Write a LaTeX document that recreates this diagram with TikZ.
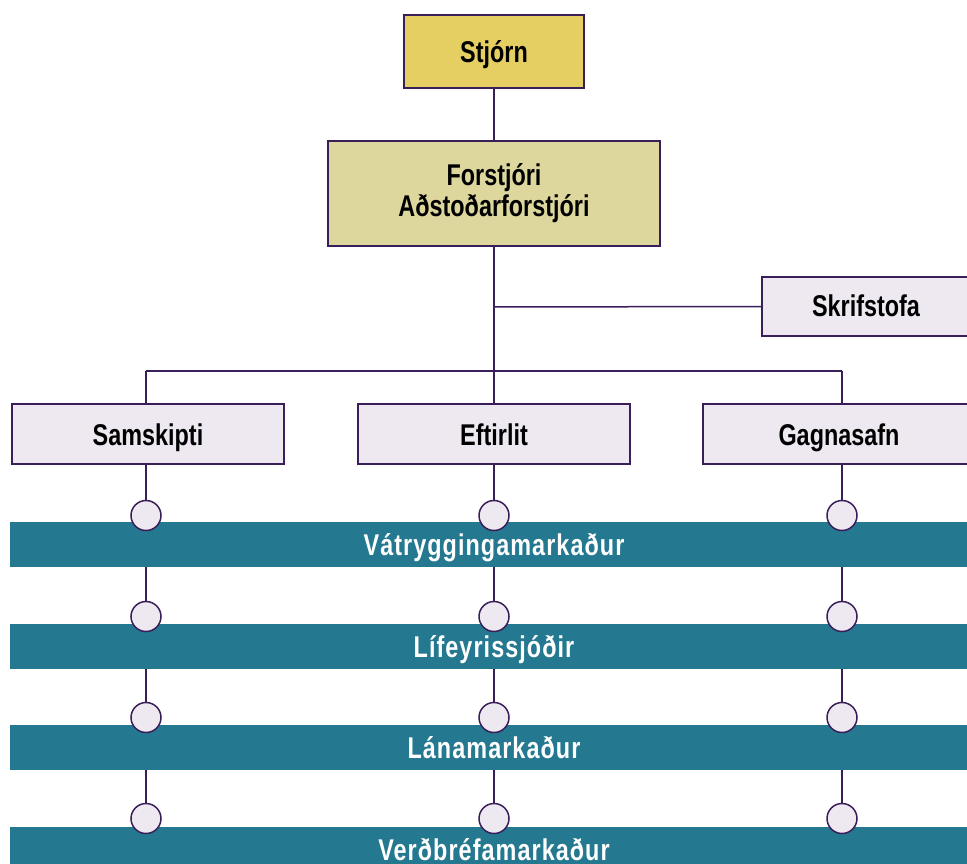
\documentclass[tikz,border=0pt]{standalone}
\usepackage{fontspec}
\setmainfont{Liberation Sans}[FakeStretch=0.78]
\usetikzlibrary{backgrounds}
\definecolor{ln}{HTML}{3A1E5A}
\definecolor{stj}{HTML}{E5CF63}
\definecolor{fst}{HTML}{DDD79D}
\definecolor{lav}{HTML}{EEE8F1}
\definecolor{teal}{HTML}{247890}
\tikzset{
  box/.style={draw=ln, line width=1.5pt, inner sep=0pt, font=\bfseries\fontsize{30}{31}\selectfont, text=black},
  one/.style={text height=22pt, text depth=0pt},
  unit/.style={box, one, fill=lav, minimum width=272pt, minimum height=60pt},
  bar/.style={fill=teal, inner sep=0pt, minimum width=968pt, minimum height=45pt, text=white,
    font=\bfseries\fontsize{30}{31}\selectfont\addfontfeature{LetterSpace=3.5}, text height=22pt, text depth=0pt},
  dot/.style={circle, draw=ln, fill=lav, line width=1.5pt, minimum size=30pt, inner sep=0pt},
  conn/.style={draw=ln, line width=1.5pt}
}
\begin{document}
\begin{tikzpicture}[x=1pt, y=-1pt]
\useasboundingbox (0,0) rectangle (967,864);
\clip (0,0) rectangle (967,864);
\node[box, one, fill=stj, minimum width=180pt, minimum height=73pt] (stjorn) at (494,51.5) {Stjórn};
\node[box, fill=fst, minimum width=332pt, minimum height=105pt, align=center] (forst) at (494,193.5) {Forstjóri\\Aðstoðarforstjóri};
\node[box, fill=lav, minimum width=208pt, minimum height=59pt, text height=20pt, text depth=0pt] (skrif) at (866,306.5) {Skrifstofa};
\node[unit] (samsk) at (148,434) {Samskipti};
\node[unit] (eft) at (494,434) {Eftirlit};
\node[unit] (gagn) at (839,434) {Gagnasafn};
\coordinate (jk) at (494,307);
\coordinate (j1) at (494,371);
\coordinate (hl) at (146,371);
\coordinate (hr) at (842,371);
\draw[conn] (stjorn.south) -- (forst.north);
\draw[conn] (forst.south) -- (j1);
\draw[conn] (jk) -- (skrif.west);
\draw[conn] (hl) -- (hr);
\draw[conn] (hl) -- (hl |- samsk.north);
\draw[conn] (j1) -- (eft.north);
\draw[conn] (hr) -- (hr |- gagn.north);
% bars
\node[bar] (b1) at (494,544.5) {Vátryggingamarkaður};
\node[bar] (b2) at (494,646.5) {Lífeyrissjóðir};
\node[bar] (b3) at (494,747.5) {Lánamarkaður};
\node[bar] (b4) at (494,849.5) {Verðbréfamarkaður};
% dots
\foreach \c/\x in {a/146,b/494,c/842}{
  \foreach \r/\y in {1/515.5,2/616.5,3/717.5,4/818.5}{
    \node[dot] (d\c\r) at (\x,\y) {};
  }
}
\begin{scope}[on background layer]
\draw[conn] (samsk.south -| da1) -- (da1);
\draw[conn] (eft.south -| db1) -- (db1);
\draw[conn] (gagn.south -| dc1) -- (dc1);
\foreach \c in {a,b,c}{
  \draw[conn] (d\c1) -- (d\c2);
  \draw[conn] (d\c2) -- (d\c3);
  \draw[conn] (d\c3) -- (d\c4);
}
\end{scope}
\end{tikzpicture}
\end{document}
